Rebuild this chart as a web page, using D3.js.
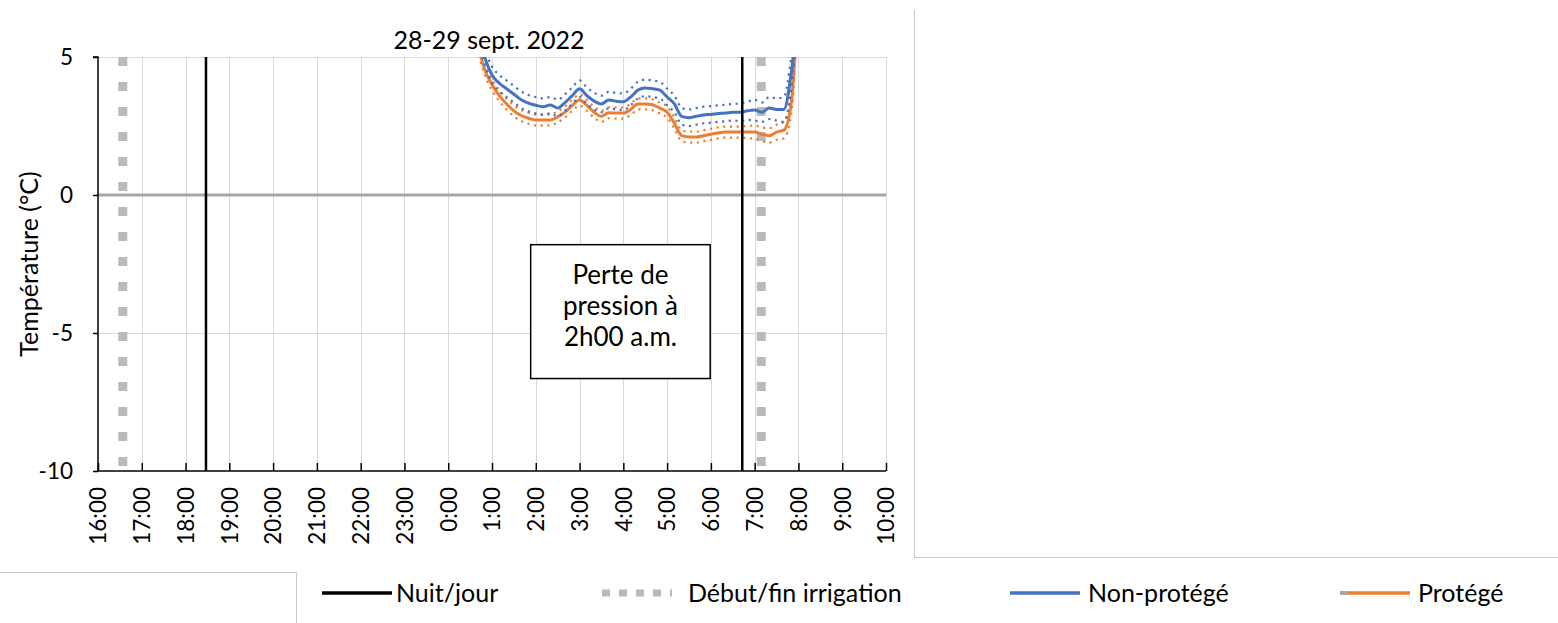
<!DOCTYPE html>
<html>
<head>
<meta charset="utf-8">
<script src="https://cdn.jsdelivr.net/npm/d3@7"></script>
<style>
  html, body { margin: 0; padding: 0; background: #fff; }
  svg { display: block; font-family: Lato, "Open Sans", sans-serif; }
</style>
</head>
<body>
<svg id="chart" width="1558" height="623"></svg>
<script>
// ---------- DATA ----------
const title = "28-29 sept. 2022";
const yLabel = "Température (°C)";
const yTicks = [5, 0, -5, -10];
const xTickLabels = ["16:00","17:00","18:00","19:00","20:00","21:00","22:00","23:00","0:00",
                     "1:00","2:00","3:00","4:00","5:00","6:00","7:00","8:00","9:00","10:00"];
const times = ["0:40","0:50","1:00","1:10","1:20","1:30","1:40","1:50","2:00","2:10","2:20","2:30",
               "2:40","2:50","3:00","3:10","3:20","3:30","3:40","3:50","4:00","4:10","4:20","4:30",
               "4:40","4:50","5:00","5:10","5:20","5:30","5:40","5:50","6:00","6:10","6:20","6:30",
               "6:40","6:50","7:00","7:10","7:20","7:30","7:40","7:50","8:00"];
const nonProtege = [6.0,5.0,4.35,4.05,3.85,3.65,3.45,3.33,3.25,3.2,3.26,3.15,3.35,3.6,3.85,3.6,3.4,3.3,
                    3.44,3.4,3.38,3.55,3.8,3.88,3.85,3.8,3.55,3.3,2.85,2.8,2.85,2.9,2.92,2.95,2.97,3.0,
                    3.0,3.05,3.08,3.0,3.15,3.1,3.1,4.4,7.0];
const nonProtegeHaut = [6.3,5.3,4.65,4.35,4.15,3.95,3.75,3.62,3.55,3.5,3.55,3.45,3.65,3.9,4.15,3.9,3.7,3.6,
                        3.74,3.7,3.68,3.85,4.1,4.18,4.15,4.1,3.85,3.6,3.15,3.1,3.15,3.2,3.22,3.25,3.27,3.3,
                        3.32,3.38,3.45,3.35,3.55,3.5,3.55,5.0,7.5];
const nonProtegeBas = [5.7,4.7,4.05,3.75,3.55,3.35,3.15,3.03,2.95,2.9,2.96,2.85,3.05,3.3,3.55,3.3,3.1,3.0,
                       3.14,3.1,3.08,3.25,3.5,3.58,3.55,3.5,3.25,3.0,2.55,2.5,2.55,2.6,2.62,2.65,2.67,2.7,
                       2.68,2.72,2.7,2.65,2.75,2.7,2.65,3.8,6.5];
const protege = [5.5,4.55,4.0,3.6,3.3,3.05,2.88,2.78,2.72,2.72,2.72,2.83,3.0,3.25,3.44,3.25,3.0,2.85,
                 2.98,2.97,2.97,3.1,3.3,3.3,3.27,3.15,3.0,2.6,2.15,2.1,2.1,2.15,2.2,2.25,2.28,2.28,
                 2.28,2.28,2.28,2.2,2.15,2.28,2.35,3.3,7.5];
const protegeHaut = [5.7,4.75,4.2,3.8,3.5,3.25,3.08,2.98,2.92,2.92,2.92,3.03,3.2,3.45,3.64,3.45,3.2,3.05,
                     3.18,3.17,3.17,3.3,3.5,3.5,3.47,3.35,3.2,2.8,2.35,2.3,2.3,2.35,2.4,2.45,2.48,2.48,
                     2.48,2.5,2.52,2.45,2.42,2.55,2.65,3.7,7.8];
const protegeBas = [5.3,4.35,3.8,3.4,3.1,2.85,2.68,2.58,2.52,2.52,2.52,2.63,2.8,3.05,3.24,3.05,2.8,2.65,
                    2.78,2.77,2.77,2.9,3.1,3.1,3.07,2.95,2.8,2.4,1.95,1.9,1.9,1.95,2.0,2.05,2.08,2.08,
                    2.08,2.06,2.04,1.95,1.9,2.0,2.05,2.9,7.2];
const nuitJour = ["18:28", "6:43"];
const irrigation = ["16:34", "7:09"];
const annotationLines = ["Perte de", "pression à", "2h00 a.m."];
const annotationBox = { from: "1:53", to: "5:59", top: -1.8, bottom: -6.65 };
const legendLabels = ["Nuit/jour", "Début/fin irrigation", "Non-protégé", "Protégé"];

// ---------- HELPERS ----------
function toDate(s) {
  const [h, m] = s.split(":").map(Number);
  return h >= 12 ? new Date(2022, 8, 28, h, m) : new Date(2022, 8, 29, h, m);
}

// ---------- LAYOUT ----------
const svg = d3.select("#chart");
const L = 98, R = 886, T = 57, B = 471;
const x = d3.scaleTime().domain([toDate("16:00"), toDate("10:00")]).range([L, R]);
const y = d3.scaleLinear().domain([-10, 5]).range([B, T]);

svg.append("rect").attr("width", 1558).attr("height", 623).attr("fill", "#fff");

// frame lines of the surrounding layout
const frame = svg.append("g").attr("stroke", "#c8c8c8").attr("stroke-width", 1).attr("fill", "none");
frame.append("path").attr("d", "M914.5,10 V557.5 H1558");
frame.append("path").attr("d", "M0,572.5 H296.5 V623");

// gridlines
const hourTicks = xTickLabels.map(toDate);
svg.append("g").selectAll("line").data(hourTicks.slice(1)).join("line")
  .attr("x1", d => Math.round(x(d)) + 0.5).attr("x2", d => Math.round(x(d)) + 0.5)
  .attr("y1", T).attr("y2", B)
  .attr("stroke", "#d9d9d9").attr("stroke-width", 1);
svg.append("g").selectAll("line").data([5, -5]).join("line")
  .attr("x1", L).attr("x2", R)
  .attr("y1", d => Math.round(y(d)) + 0.5).attr("y2", d => Math.round(y(d)) + 0.5)
  .attr("stroke", "#d9d9d9").attr("stroke-width", 1);
svg.append("line")
  .attr("x1", L).attr("x2", R).attr("y1", y(0)).attr("y2", y(0))
  .attr("stroke", "#a6a6a6").attr("stroke-width", 3);

// clip
svg.append("clipPath").attr("id", "plotclip").append("rect")
  .attr("x", L).attr("y", T).attr("width", R - L).attr("height", B - T);

// irrigation lines (thick gray dashed)
svg.append("g").selectAll("line").data(irrigation.map(toDate)).join("line")
  .attr("x1", d => x(d)).attr("x2", d => x(d))
  .attr("y1", T).attr("y2", B)
  .attr("stroke", "#bababa").attr("stroke-width", 9)
  .attr("stroke-dasharray", "9,16");

// annotation box
svg.append("rect")
  .attr("x", x(toDate(annotationBox.from))).attr("y", y(annotationBox.top))
  .attr("width", x(toDate(annotationBox.to)) - x(toDate(annotationBox.from)))
  .attr("height", y(annotationBox.bottom) - y(annotationBox.top))
  .attr("fill", "#fff").attr("stroke", "#000").attr("stroke-width", 1.5);
const annCx = (x(toDate(annotationBox.from)) + x(toDate(annotationBox.to))) / 2;
svg.append("g").selectAll("text").data(annotationLines).join("text")
  .attr("x", annCx).attr("y", (d, i) => y(annotationBox.top) + 39 + i * 31)
  .attr("text-anchor", "middle").attr("font-size", 26).attr("fill", "#000")
  .text(d => d);

// series
const tDates = times.map(toDate);
const lineGen = d3.line().x((d, i) => x(tDates[i])).y(d => y(d)).curve(d3.curveMonotoneX);
const g = svg.append("g").attr("clip-path", "url(#plotclip)");
const series = [
  { v: protegeHaut, c: "#ED7D31", dotted: true },
  { v: protegeBas, c: "#ED7D31", dotted: true },
  { v: protege, c: "#ED7D31", dotted: false },
  { v: nonProtegeHaut, c: "#4472C4", dotted: true },
  { v: nonProtegeBas, c: "#4472C4", dotted: true },
  { v: nonProtege, c: "#4472C4", dotted: false }
];
g.selectAll("path").data(series).join("path")
  .attr("d", d => lineGen(d.v))
  .attr("fill", "none")
  .attr("stroke", d => d.c)
  .attr("stroke-width", d => d.dotted ? 2.2 : 3)
  .attr("stroke-dasharray", d => d.dotted ? "2.2,4.5" : null)
  .attr("stroke-linejoin", "round");

// night/day lines
svg.append("g").selectAll("line").data(nuitJour.map(toDate)).join("line")
  .attr("x1", d => x(d)).attr("x2", d => x(d))
  .attr("y1", T).attr("y2", B)
  .attr("stroke", "#000").attr("stroke-width", 2.5);

// axes
const yAxis = d3.axisLeft(y).tickValues(yTicks).tickSize(5).tickPadding(20).tickFormat(d3.format("d"));
const yg = svg.append("g").attr("transform", `translate(${L},0)`).call(yAxis);
yg.select(".domain").attr("stroke", "#000").attr("stroke-width", 1.5).attr("d", `M-5,${T}H0V${B}`);
yg.selectAll(".tick line").attr("stroke", "#000").attr("stroke-width", 1.5);
yg.selectAll(".tick text").attr("font-size", 22.5).attr("font-family", "Lato, sans-serif").attr("fill", "#000")
  .text(d => d < 0 ? "-" + Math.abs(d) : d);

const xAxis = d3.axisBottom(x).tickValues(hourTicks).tickSize(-8).tickFormat(d3.timeFormat("%-H:%M"));
const xg = svg.append("g").attr("transform", `translate(0,${B})`).call(xAxis);
xg.select(".domain").attr("stroke", "#000").attr("stroke-width", 1.5).attr("d", `M${L},0H${R}`);
xg.selectAll(".tick line").attr("stroke", "#000").attr("stroke-width", 1.5);
xg.selectAll(".tick text")
  .attr("font-size", 22.5).attr("font-family", "Lato, sans-serif").attr("fill", "#000")
  .attr("transform", "rotate(-90)")
  .attr("text-anchor", "end").attr("x", -16).attr("y", 0).attr("dy", "0.35em");

// title
svg.append("text").attr("x", 489).attr("y", 49).attr("text-anchor", "middle")
  .attr("font-size", 25).attr("fill", "#000").text(title);

// y label
svg.append("text").attr("transform", `translate(38,${(T + B) / 2}) rotate(-90)`)
  .attr("text-anchor", "middle").attr("font-size", 25).attr("fill", "#000").text(yLabel);

// legend
const legendItems = [
  { label: legendLabels[0], x: 322, tx: 396, stroke: "#000", w: 3.5, dash: null, lead: null },
  { label: legendLabels[1], x: 602, tx: 688, stroke: "#bababa", w: 7, dash: "8,9", lead: null },
  { label: legendLabels[2], x: 1010, tx: 1088, stroke: "#4472C4", w: 3.5, dash: null, lead: null },
  { label: legendLabels[3], x: 1340, tx: 1418, stroke: "#ED7D31", w: 3.5, dash: null, lead: "#a5a5a5" }
];
const lg = svg.append("g").selectAll("g").data(legendItems).join("g")
  .attr("transform", "translate(0,593)");
lg.append("line").attr("x1", d => d.x).attr("x2", d => d.x + 70).attr("y1", 0).attr("y2", 0)
  .attr("stroke", d => d.stroke).attr("stroke-width", d => d.w)
  .attr("stroke-dasharray", d => d.dash);
lg.filter(d => d.lead).append("line").attr("x1", d => d.x).attr("x2", d => d.x + 9).attr("y1", 0).attr("y2", 0)
  .attr("stroke", d => d.lead).attr("stroke-width", d => d.w);
lg.append("text").attr("x", d => d.tx).attr("y", 0).attr("dy", "0.35em")
  .attr("font-size", 25).attr("fill", "#000").text(d => d.label);
</script>
</body>
</html>
